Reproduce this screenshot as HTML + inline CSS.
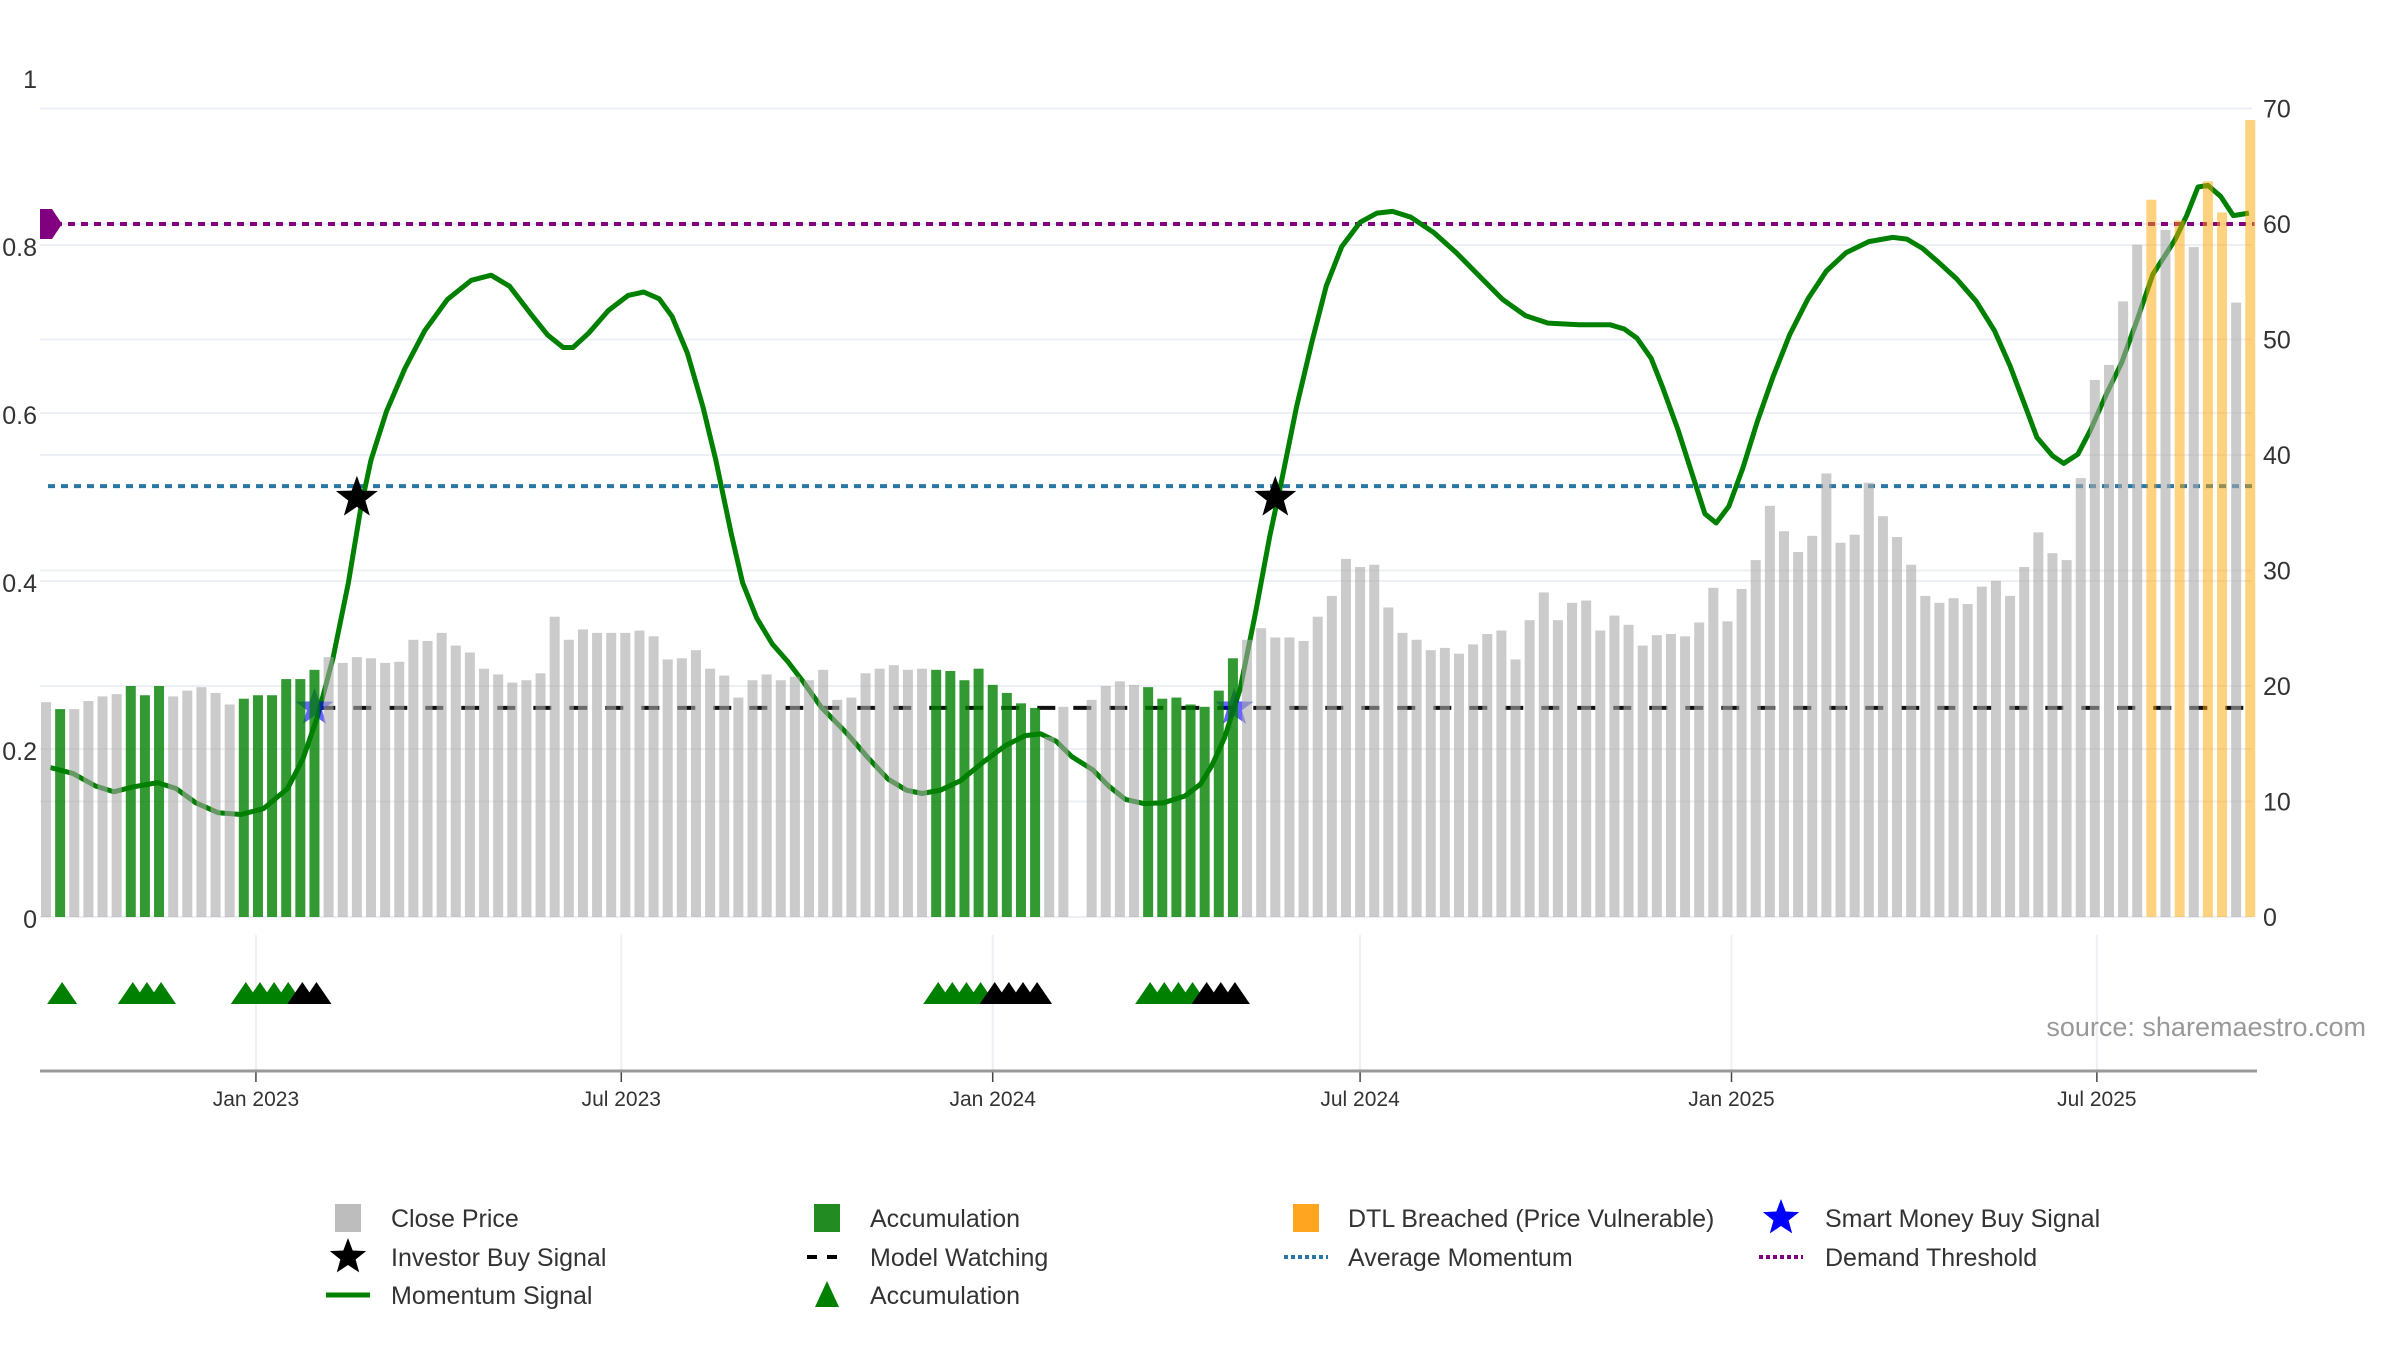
<!DOCTYPE html>
<html><head><meta charset="utf-8">
<style>
html,body{margin:0;padding:0;background:#fff;}
svg{display:block;font-family:"Liberation Sans","DejaVu Sans",sans-serif;}
</style></head>
<body>
<svg id="chart" width="2400" height="1350" viewBox="0 0 2400 1350" xmlns="http://www.w3.org/2000/svg">
<g id="grid"></g>
<g id="lines"></g>
<g id="bars"></g>
<g id="marks"></g>
<g id="axes"></g>
<text x="2366" y="1036" text-anchor="end" font-size="27" fill="#999">source: sharemaestro.com</text>
<g id="legend"></g>
</svg>
<script>
// ---- data ----
const closePrices = [18.6,18.0,18.0,18.7,19.1,19.3,20.0,19.2,20.0,19.1,19.6,19.9,19.4,18.4,18.9,19.2,19.2,20.6,20.6,21.4,
22.5,22.0,22.5,22.4,22.0,22.1,24.0,23.9,24.6,23.5,22.9,21.5,21.0,20.3,20.5,21.1,26.0,24.0,24.9,24.6,
24.6,24.6,24.8,24.3,22.3,22.4,23.1,21.5,20.9,19.0,20.5,21.0,20.5,20.8,20.5,21.4,18.8,19.0,21.1,21.5,21.8,
21.4,21.5,21.4,21.3,20.5,21.5,20.1,19.4,18.5,18.1,15.6,18.2,0,18.8,20.0,20.4,20.1,19.9,18.9,19.0,
18.4,18.2,19.6,22.4,24.0,25.0,24.2,24.2,23.9,26.0,27.8,31.0,30.3,30.5,26.8,24.6,24.0,23.1,23.3,22.8,
23.6,24.5,24.8,22.3,25.7,28.1,25.7,27.2,27.4,24.8,26.1,25.3,23.5,24.4,24.5,24.3,25.5,28.5,25.6,28.4,
30.9,35.6,33.4,31.6,33.0,38.4,32.4,33.1,37.6,34.7,32.9,30.5,27.8,27.2,27.6,27.1,28.6,29.1,27.8,30.3,
33.3,31.5,30.9,38.0,46.5,47.8,53.3,58.2,62.1,59.5,60.3,58.0,63.7,61.0,53.2,69.0];
const accumulationWeeks = [1,6,7,8,14,15,16,17,18,19,63,64,65,66,67,68,69,70,78,79,80,81,82,83,84];
const dtlWeeks = [149,151,153,154,156];
const momentumWeeks = [0.3,1.9,3.5,4.8,6.2,7.9,9.2,10.6,12.2,13.8,15.4,17.1,18.2,19.2,20.3,21.4,22.3,23.0,24.1,25.4,26.8,28.4,30.1,31.5,32.8,34.4,35.5,36.6,37.3,38.4,39.8,41.2,42.3,43.4,44.3,45.4,46.5,47.4,48.5,49.3,50.3,51.4,52.5,53.5,54.9,56.6,58.2,59.6,60.9,62.0,63.3,64.7,66.3,67.9,69.3,70.4,71.5,72.6,74.1,75.2,76.4,77.7,79.1,80.6,81.7,82.5,83.4,84.5,85.6,86.6,87.4,88.5,89.6,90.6,91.7,93.0,94.2,95.3,96.6,98.2,99.8,101.5,103.1,104.7,106.3,108.5,110.7,111.7,112.6,113.6,114.4,115.5,116.6,117.4,118.2,119.1,120.1,121.1,122.2,123.4,124.7,126.0,127.4,129.0,130.7,131.7,132.8,133.9,135.2,136.6,137.9,139.0,140.1,140.9,142.0,142.8,143.8,144.7,145.8,146.9,148.0,149.1,150.1,150.7,151.5,152.3,153.0,153.9,154.8,155.9];
const momentumValues = [0.178,0.171,0.156,0.149,0.155,0.16,0.153,0.136,0.124,0.122,0.129,0.153,0.189,0.238,0.307,0.398,0.489,0.544,0.602,0.653,0.698,0.735,0.758,0.764,0.751,0.716,0.693,0.678,0.678,0.695,0.722,0.74,0.744,0.736,0.715,0.671,0.607,0.544,0.456,0.398,0.356,0.325,0.304,0.282,0.249,0.22,0.189,0.164,0.151,0.147,0.151,0.162,0.184,0.204,0.216,0.218,0.209,0.191,0.175,0.156,0.14,0.135,0.136,0.144,0.158,0.18,0.213,0.271,0.362,0.453,0.516,0.607,0.685,0.751,0.798,0.827,0.838,0.84,0.833,0.815,0.791,0.762,0.735,0.716,0.707,0.705,0.705,0.7,0.689,0.665,0.631,0.58,0.522,0.48,0.469,0.489,0.535,0.589,0.642,0.693,0.736,0.769,0.791,0.804,0.809,0.807,0.796,0.78,0.76,0.733,0.698,0.656,0.607,0.571,0.549,0.54,0.551,0.58,0.622,0.66,0.711,0.765,0.791,0.807,0.835,0.869,0.871,0.858,0.835,0.838];
const demandThreshold = 0.825;
const averageMomentum = 0.513;
const modelWatchingLevel = 0.249;
const modelWatchingStart = 19.2;
const investorSignalWeeks = [22.0, 87.0];
const investorSignalValue = 0.499;
const smartMoneyWeeks = [19.0, 84.1];
const smartMoneyValue = 0.249;
const greenTriangleWeeks = [1,6,7,8,14,15,16,17,63,64,65,66,78,79,80,81];
const blackTriangleWeeks = [18,19,67,68,69,70,82,83,84];
const tickLabels = ["Jan 2023","Jul 2023","Jan 2024","Jul 2024","Jan 2025","Jul 2025"];
const tickDays = [104,285,469,651,835,1016];
const leftTicks = [0,0.2,0.4,0.6,0.8,1];
const leftTickLabels = ["0","0.2","0.4","0.6","0.8","1"];
const rightTicks = [0,10,20,30,40,50,60,70];

// ---- scales ----
const X0 = 46, PITCH = 14.13, BASE = 917, PLOT_L = 40, PLOT_R = 2257;
const xw = w => X0 + w * PITCH;
const yPrice = p => BASE - p * 11.55;
const yMom = m => BASE - m * 840;
const NS = "http://www.w3.org/2000/svg";
function mk(tag, attrs, parent) {
  const e = document.createElementNS(NS, tag);
  for (const k in attrs) e.setAttribute(k, attrs[k]);
  parent.appendChild(e);
  return e;
}
function starPts(cx, cy, R, r) {
  const p = [];
  for (let i = 0; i < 10; i++) {
    const a = -Math.PI / 2 + i * Math.PI / 5, rad = i % 2 ? r : R;
    p.push((cx + rad * Math.cos(a)).toFixed(1) + "," + (cy + rad * Math.sin(a)).toFixed(1));
  }
  return p.join(" ");
}
const grid = document.getElementById("grid"), lines = document.getElementById("lines"),
  bars = document.getElementById("bars"), marks = document.getElementById("marks"),
  axes = document.getElementById("axes"), legend = document.getElementById("legend");

// gridlines
rightTicks.forEach(t => {
  const l = mk("line", {x1: PLOT_L, x2: PLOT_R - 5, y1: yPrice(t), y2: yPrice(t), stroke: "#eceff3", "stroke-width": 2}, grid);
  
  
  const tx = mk("text", {x: 2263, y: yPrice(t) + 9, "font-size": 25, fill: "#333"}, axes);
  tx.textContent = String(t);
  
  
});
leftTicks.forEach((t, i) => {
  if (t > 0 && t < 1) {
    const l = mk("line", {x1: PLOT_L, x2: PLOT_R - 5, y1: yMom(t), y2: yMom(t), stroke: "#eceff3", "stroke-width": 2}, grid);
    
    
  }
  const tx = mk("text", {x: 37, y: yMom(t) + 11, "font-size": 25, fill: "#333", "text-anchor": "end"}, axes);
  tx.textContent = leftTickLabels[i];
  
  
});
tickDays.forEach((d, i) => {
  const x = xw(d / 7);
  const vl = mk("line", {x1: x, x2: x, y1: 935, y2: 1070, stroke: "#eef0f4", "stroke-width": 2}, grid);
  
  
  const tk = mk("line", {x1: x, x2: x, y1: 1071, y2: 1082, stroke: "#444", "stroke-width": 1.5}, axes);
  
  
  const tx = mk("text", {x: x, y: 1106, "font-size": 21, fill: "#333", "text-anchor": "middle"}, axes);
  tx.textContent = tickLabels[i];
  
  
});
const axl = mk("line", {x1: PLOT_L, x2: PLOT_R, y1: 1071, y2: 1071, stroke: "#999", "stroke-width": 3}, axes);



// horizontal indicator lines
const dl = mk("line", {x1: 55, x2: xw(156.3), y1: yMom(demandThreshold), y2: yMom(demandThreshold), stroke: "#800080", "stroke-width": 4, "stroke-dasharray": "7,6"}, lines);


const al = mk("line", {x1: 48, x2: xw(156.3), y1: yMom(averageMomentum), y2: yMom(averageMomentum), stroke: "#2a77a6", "stroke-width": 4, "stroke-dasharray": "7,6"}, lines);


const ml = mk("line", {x1: xw(modelWatchingStart), x2: xw(156.3), y1: yMom(modelWatchingLevel), y2: yMom(modelWatchingLevel), stroke: "#111", "stroke-width": 4, "stroke-dasharray": "18,18"}, lines);


const dy = yMom(demandThreshold);
const dia = mk("polygon", {points: `40,${dy-15} 52,${dy-15} 62,${dy} 52,${dy+15} 40,${dy+15}`, fill: "#800080"}, lines);



// momentum line
const mp = momentumWeeks.map((w, i) => xw(w).toFixed(1) + "," + yMom(momentumValues[i]).toFixed(1)).join(" ");
const mline = mk("polyline", {points: mp, fill: "none", stroke: "#008000", "stroke-width": 5, "stroke-linejoin": "round"}, lines);



// smart money stars (under bars)
smartMoneyWeeks.forEach(w => {
  const s = mk("polygon", {points: starPts(xw(w), yMom(smartMoneyValue), 20, 8), fill: "#0000ff", opacity: 0.6}, lines);
  
  
});

// bars
closePrices.forEach((p, i) => {
  if (p <= 0) return;
  let fill = "#a9a9a9", op = 0.6, name = "close-price-bar";
  if (accumulationWeeks.includes(i)) { fill = "#008000"; op = 0.8; name = "accumulation-bar"; }
  if (dtlWeeks.includes(i)) { fill = "#ffa500"; op = 0.5; name = "dtl-breached-bar"; }
  const r = mk("rect", {x: xw(i) - 5, y: yPrice(p), width: 10, height: BASE - yPrice(p), fill: fill, "fill-opacity": op}, bars);
  
  
});

// investor stars
investorSignalWeeks.forEach(w => {
  const s = mk("polygon", {points: starPts(xw(w), yMom(investorSignalValue), 22, 9), fill: "#000"}, marks);
  
  
});
// triangles
function tri(w, color, name) {
  const x = xw(w) + 2, y = 993;
  const t = mk("polygon", {points: `${x-15},${y+11} ${x},${y-11} ${x+15},${y+11}`, fill: color}, marks);
  
  
}
greenTriangleWeeks.forEach(w => tri(w, "#008000", "accumulation-triangle"));
blackTriangleWeeks.forEach(w => tri(w, "#000", "model-watching-triangle"));

// legend
const rows = [1218, 1257, 1295], iconX = [348, 827, 1306, 1781], textX = [391, 870, 1348, 1825];
function ltext(c, r, s) {
  const t = mk("text", {x: textX[c], y: rows[r] + 9, "font-size": 25, fill: "#333"}, legend);
  t.textContent = s;
  
  
}
let e;
e = mk("rect", {x: iconX[0]-13, y: rows[0]-14, width: 26, height: 28, fill: "#bdbdbd"}, legend);
 
ltext(0, 0, "Close Price");
e = mk("rect", {x: iconX[1]-13, y: rows[0]-14, width: 26, height: 28, fill: "#228b22"}, legend);
 
ltext(1, 0, "Accumulation");
e = mk("rect", {x: iconX[2]-13, y: rows[0]-14, width: 26, height: 28, fill: "#ffa520"}, legend);
 
ltext(2, 0, "DTL Breached (Price Vulnerable)");
e = mk("polygon", {points: starPts(iconX[3], rows[0], 19, 8), fill: "#0000ff"}, legend);
 
ltext(3, 0, "Smart Money Buy Signal");
e = mk("polygon", {points: starPts(iconX[0], rows[1], 19, 8), fill: "#000"}, legend);
 
ltext(0, 1, "Investor Buy Signal");
e = mk("line", {x1: iconX[1]-20, x2: iconX[1]+20, y1: rows[1], y2: rows[1], stroke: "#000", "stroke-width": 4, "stroke-dasharray": "10,10"}, legend);
 
ltext(1, 1, "Model Watching");
e = mk("line", {x1: iconX[2]-22, x2: iconX[2]+22, y1: rows[1], y2: rows[1], stroke: "#2a77a6", "stroke-width": 4, "stroke-dasharray": "4,3"}, legend);
 
ltext(2, 1, "Average Momentum");
e = mk("line", {x1: iconX[3]-22, x2: iconX[3]+22, y1: rows[1], y2: rows[1], stroke: "#800080", "stroke-width": 4, "stroke-dasharray": "4,3"}, legend);
 
ltext(3, 1, "Demand Threshold");
e = mk("line", {x1: iconX[0]-22, x2: iconX[0]+22, y1: rows[2], y2: rows[2], stroke: "#008000", "stroke-width": 5}, legend);
 
ltext(0, 2, "Momentum Signal");
e = mk("polygon", {points: `${iconX[1]-12},${rows[2]+12} ${iconX[1]},${rows[2]-14} ${iconX[1]+12},${rows[2]+12}`, fill: "#008000"}, legend);
 
ltext(1, 2, "Accumulation");
</script>
</body></html>
